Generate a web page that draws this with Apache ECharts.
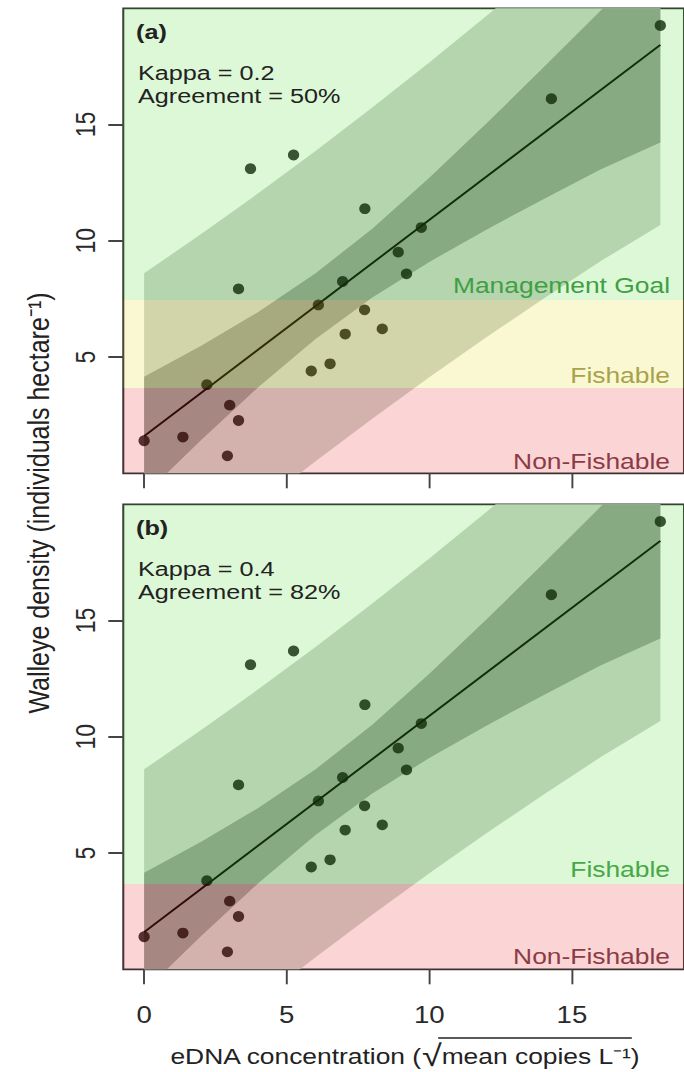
<!DOCTYPE html>
<html><head><meta charset="utf-8">
<script src="https://cdn.jsdelivr.net/npm/echarts@6/dist/echarts.min.js"></script>
<style>
html,body{margin:0;padding:0;background:#fff;overflow:hidden;}
#wrap{width:684px;height:1072px;overflow:hidden;position:relative;}
#chart{position:absolute;left:0;top:0;height:1072px;transform-origin:0 0;}
</style></head><body><div id="wrap"><div id="chart"></div></div>
<script>
// ---------------- data ----------------
const eDNA    = [0, 1.36, 2.2, 2.92, 3.0, 3.31, 3.31, 3.73, 5.24, 5.86, 6.11, 6.52, 6.96, 7.05, 7.73, 7.74, 8.35, 8.91, 9.20, 9.72, 14.28, 18.1];
const density = [1.4, 1.56, 3.81, 0.75, 2.93, 2.27, 7.93, 13.1, 13.69, 4.40, 7.24, 4.71, 8.25, 5.99, 7.03, 11.38, 6.21, 9.51, 8.58, 10.57, 16.11, 19.26];
const fitX = [0, 18.1];
const fitY = [1.6, 18.43];
const bandX     = [0, 2, 4, 6, 8, 10, 12, 14, 16, 18.1];
const confUpper = [4.15, 5.49, 6.94, 8.59, 10.52, 12.71, 15.04, 17.45, 19.89, 22.63];
const confLower = [-0.95, 1.43, 3.70, 5.77, 7.56, 9.09, 10.48, 11.79, 13.07, 14.23];
const predUpper = [8.6, 10.29, 12.04, 13.85, 15.73, 17.67, 19.67, 21.73, 23.84, 26.18];
const predLower = [-5.4, -3.37, -1.40, 0.51, 2.35, 4.13, 5.85, 7.51, 9.12, 10.68];
const xTicks = [0, 5, 10, 15];
const yTicks = [5, 10, 15];
const zoneLowA  = [0, 3.67, 7.45];
const zoneHighA = [3.67, 7.45, 20];
const zoneNameA = ['Non-Fishable', 'Fishable', 'Management Goal'];
const zoneLowB  = [0, 3.67];
const zoneHighB = [3.67, 20];
const zoneNameB = ['Non-Fishable', 'Fishable'];
const statsA = ['Kappa = 0.2', 'Agreement = 50%'];
const statsB = ['Kappa = 0.4', 'Agreement = 82%'];

// ---------------- layout / style ----------------
const S = 1.2;                  // horizontal stretch of the original figure
const CW = 684 / S;
const el = document.getElementById('chart');
el.style.width = CW + 'px';
el.style.transform = 'scaleX(' + S + ')';
const X = v => v / S;           // final-pixel x -> chart x

const xMin = -0.73, xMax = 18.93, yMin = 0, yMax = 20;
const gridL = X(123.3), gridW = (xMax - xMin) * 28.6 / S;
const grids = [{top: 8.3, height: 465}, {top: 504.3, height: 465}];
const FONT = '"Liberation Sans", Arial, sans-serif';
const fillPink = 'rgba(235,45,45,0.2)', fillYellow = 'rgba(230,220,30,0.2)', fillGreen = 'rgba(80,220,50,0.2)';
const zoneFillA = [fillPink, fillYellow, fillGreen];
const zoneFillB = [fillPink, fillGreen];
const zoneTextA = ['#8c3b46', '#a8a24a', '#3f9f42'];
const zoneTextB = ['#8c3b46', '#46a846'];

const chart = echarts.init(el, null, {renderer: 'svg'});

function bandSeries(i, up, lo, color, z) {
  return {
    type: 'custom', xAxisIndex: i, yAxisIndex: i, clip: true, z: z, silent: true,
    data: [[bandX[0], up[0]]],
    renderItem: function (params, api) {
      const pts = [];
      for (let k = 0; k < bandX.length; k++) pts.push(api.coord([bandX[k], up[k]]));
      for (let k = bandX.length - 1; k >= 0; k--) pts.push(api.coord([bandX[k], lo[k]]));
      return {type: 'polygon', shape: {points: pts}, style: {fill: color}};
    }
  };
}
function zoneSeries(i, lows, highs, fills) {
  return {
    type: 'custom', xAxisIndex: i, yAxisIndex: i, clip: true, z: 10, silent: true,
    data: lows.map((l, k) => [k, l, highs[k]]),
    encode: {x: 1, y: 2},
    renderItem: function (params, api) {
      const k = api.value(0);
      const p1 = api.coord([xMin, api.value(2)]);
      const p2 = api.coord([xMax, api.value(1)]);
      return {type: 'rect', shape: {x: p1[0], y: p1[1], width: p2[0] - p1[0], height: p2[1] - p1[1]},
              style: {fill: fills[k]}};
    }
  };
}

const xAxes = [0, 1].map(i => ({
  type: 'value', gridIndex: i, min: xMin, max: xMax,
  axisLine: {show: false, onZero: false}, splitLine: {show: false},
  axisTick: {show: true, customValues: xTicks, length: 15, lineStyle: {color: '#444', width: 1.6}},
  axisLabel: {show: i === 1, customValues: xTicks, margin: 34, fontSize: 23, color: '#2a2a2a', fontFamily: FONT}
}));
const yAxes = [0, 1].map(i => ({
  type: 'value', gridIndex: i, min: yMin, max: yMax,
  axisLine: {show: false, onZero: false}, splitLine: {show: false},
  axisTick: {show: true, customValues: yTicks, length: X(15), lineStyle: {color: '#444', width: 2}},
  axisLabel: {show: true, customValues: yTicks, rotate: 90, margin: 20, fontSize: 23, color: '#2a2a2a', fontFamily: FONT}
}));

const series = [];
[0, 1].forEach(i => {
  series.push(bandSeries(i, predUpper, predLower, 'rgb(206,212,205)', 1));
  series.push(bandSeries(i, confUpper, confLower, 'rgb(150,158,150)', 2));
  series.push({type: 'line', xAxisIndex: i, yAxisIndex: i, z: 3, silent: true, symbol: 'none',
               data: fitX.map((x, k) => [x, fitY[k]]), lineStyle: {color: '#000', width: 1.8}});
  series.push({type: 'scatter', xAxisIndex: i, yAxisIndex: i, z: 4, silent: true,
               symbol: 'circle', symbolSize: [9.4, 10.8], itemStyle: {color: '#000'},
               data: eDNA.map((x, k) => [x, density[k]])});
});
series.push(zoneSeries(0, zoneLowA, zoneHighA, zoneFillA));
series.push(zoneSeries(1, zoneLowB, zoneHighB, zoneFillB));

const graphics = [];
function txt(x, y, text, size, opts) {
  graphics.push(Object.assign({type: 'text', x: x, y: y, z: 100, silent: true,
    style: Object.assign({text: text, fontSize: size, fontFamily: FONT, fill: '#222',
                          verticalAlign: 'middle', align: 'left'}, opts && opts.style)},
    opts && opts.el));
}
// panel labels and stats
[[grids[0].top, statsA, '(a)'], [grids[1].top, statsB, '(b)']].forEach(([t, st, lab]) => {
  txt(X(136), t + 23, lab, 21, {style: {fontWeight: 'bold'}});
  txt(X(138), t + 64, st[0], 21);
  txt(X(138), t + 87, st[1], 21);
});
// zone labels
const zoneLabelYA = [461, 375, 285];
const zoneLabelYB = [956, 869];
zoneNameA.forEach((n, k) => txt(X(670), zoneLabelYA[k], n, 22, {style: {align: 'right', fill: zoneTextA[k]}}));
zoneNameB.forEach((n, k) => txt(X(670), zoneLabelYB[k], n, 22, {style: {align: 'right', fill: zoneTextB[k]}}));
// axis titles
txt(X(39), 503, 'Walleye density (individuals hectare\u207B\u00B9)', 25,
    {style: {align: 'center'}, el: {rotation: Math.PI / 2}});
const tA = 'eDNA concentration (', tR = '\u221A', tB = 'mean copies L\u207B\u00B9', tC = ')';
const fsT = 22, fsR = 30, xTitleCx = X(404.5), xTitleY = 1056;
txt(xTitleCx, xTitleY, '{t|' + tA + '}{r|' + tR + '}{t|' + tB + tC + '}', fsT, {style: {align: 'center',
    rich: {t: {fontSize: fsT, lineHeight: 22, fontFamily: FONT, fill: '#222'},
           r: {fontSize: fsR, lineHeight: 22, fontFamily: FONT, fill: '#222'}}}});
// overline of the square root, measured from the title text
const mctx = document.createElement('canvas').getContext('2d');
const mw = (s, fs) => { mctx.font = fs + 'px ' + FONT; return mctx.measureText(s).width; };
const wA = mw(tA, fsT), wR = mw(tR, fsR), wB = mw(tB, fsT), wC = mw(tC, fsT);
const x0 = xTitleCx - (wA + wR + wB + wC) / 2;
graphics.push({type: 'line', z: 100, silent: true,
               shape: {x1: x0 + wA + wR * 0.82, y1: 1038, x2: x0 + wA + wR + wB + 1, y2: 1038},
               style: {stroke: '#222', lineWidth: 1.3}});

chart.setOption({
  animation: false,
  backgroundColor: '#fff',
  grid: grids.map(g => ({left: gridL, width: gridW, top: g.top, height: g.height, show: true,
                         backgroundColor: '#fff', borderColor: '#333', borderWidth: 1.7})),
  xAxis: xAxes, yAxis: yAxes, series: series, graphic: graphics
});
</script></body></html>
